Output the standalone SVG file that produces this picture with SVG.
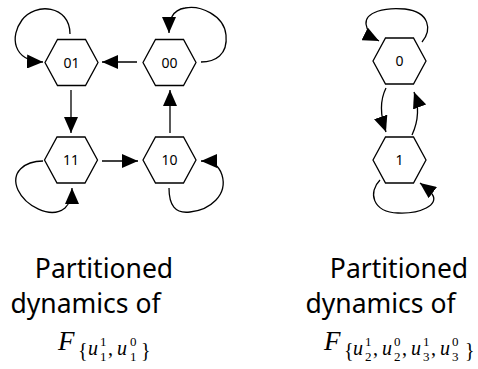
<svg xmlns="http://www.w3.org/2000/svg" width="478" height="369" viewBox="0 0 478 369">
<style>
.hex{fill:#fff;stroke:#000;stroke-width:1.3}
.lbl{font-family:"Noto Sans",sans-serif;font-size:14px;text-anchor:middle;fill:#000}
.edge{fill:none;stroke:#000;stroke-width:1.3;marker-end:url(#ah)}
.cap{font-family:"Noto Sans",sans-serif;font-size:26.5px;text-anchor:middle;fill:#000}
.math{font-family:"Liberation Serif",serif;fill:#000}
.it{font-style:italic}
.sb{font-size:20px}
.ss{font-size:13px}
</style>
<defs>
<marker id="ah" markerUnits="userSpaceOnUse" markerWidth="16" markerHeight="14" refX="16" refY="7" orient="auto" viewBox="0 0 16 14">
<path d="M0,0 L16,7 L0,14 z" fill="#000"/>
</marker>
<path id="hx" d="M-26.5,0 L-14,-23 L14,-23 L26.5,0 L14,23 L-14,23 Z"/>
</defs>

<g id="connectors">
<path class="edge" d="M137,62 L102,62"/>
<path class="edge" d="M71,90 L71,133"/>
<path class="edge" d="M102,161 L138,161"/>
<path class="edge" d="M170,133 L170,90"/>
<path class="edge" d="M70,34 C70,5 35,2 22,20 C10,36 12,61 43,62"/>
<path class="edge" d="M201,62 C215,62 228,55 226,35 C224,15 200,5 185,8 C172,10 169,20 169,33"/>
<path class="edge" d="M43,161 C25,161 10,172 18,190 C25,205 50,220 65,208 C70,203 72,198 72,188"/>
<path class="edge" d="M169,188 C169,205 175,214 190,212 C210,210 228,195 222,175 C219,165 212,161 201,161"/>
<path class="edge" d="M422,42 C432,30 430,12 405,9 C385,7 365,12 366,24 C367,32 371,37 379,41"/>
<path class="edge" d="M386,88 C380,100 380,115 386,132"/>
<path class="edge" d="M412,135 C418,122 420,108 414,92"/>
<path class="edge" d="M380,180 C368,192 372,212 398,213 C420,214 440,205 432,194 C428,189 424,186 420,183"/>
</g>

<g id="n01"><use href="#hx" class="hex" x="71.5" y="62.5"/><text class="lbl" x="71.5" y="67.5">01</text></g>
<g id="n00"><use href="#hx" class="hex" x="169.5" y="62.5"/><text class="lbl" x="169.5" y="67.5">00</text></g>
<g id="n11"><use href="#hx" class="hex" x="71" y="160"/><text class="lbl" x="71" y="165">11</text></g>
<g id="n10"><use href="#hx" class="hex" x="169.5" y="160"/><text class="lbl" x="169.5" y="165">10</text></g>
<g id="n0"><use href="#hx" class="hex" x="399.5" y="61"/><text class="lbl" x="399.5" y="66">0</text></g>
<g id="n1"><use href="#hx" class="hex" x="399.5" y="160"/><text class="lbl" x="399.5" y="165">1</text></g>

<g id="caption-left">
<text class="cap" x="104" y="278">Partitioned</text>
<text class="cap" x="85.5" y="313">dynamics of</text>
<text class="math">
<tspan class="it" x="58" y="350" font-size="27">F</tspan>
<tspan class="sb" x="78" y="357">{</tspan>
<tspan class="it sb" x="88" y="355">u</tspan>
<tspan class="ss" x="100" y="345.5">1</tspan>
<tspan class="ss" x="100" y="361">1</tspan>
<tspan class="sb" x="108" y="355">,</tspan>
<tspan class="it sb" x="117" y="355">u</tspan>
<tspan class="ss" x="130" y="345.5">0</tspan>
<tspan class="ss" x="130" y="361">1</tspan>
<tspan class="sb" x="141" y="357">}</tspan>
</text>
</g>

<g id="caption-right">
<text class="cap" x="399" y="278">Partitioned</text>
<text class="cap" x="380.5" y="313">dynamics of</text>
<text class="math">
<tspan class="it" x="324" y="350" font-size="27">F</tspan>
<tspan class="sb" x="344" y="357">{</tspan>
<tspan class="it sb" x="353" y="355">u</tspan>
<tspan class="ss" x="365" y="345.5">1</tspan>
<tspan class="ss" x="365" y="361">2</tspan>
<tspan class="sb" x="373" y="355">,</tspan>
<tspan class="it sb" x="382" y="355">u</tspan>
<tspan class="ss" x="394" y="345.5">0</tspan>
<tspan class="ss" x="394" y="361">2</tspan>
<tspan class="sb" x="402" y="355">,</tspan>
<tspan class="it sb" x="411" y="355">u</tspan>
<tspan class="ss" x="423" y="345.5">1</tspan>
<tspan class="ss" x="423" y="361">3</tspan>
<tspan class="sb" x="431" y="355">,</tspan>
<tspan class="it sb" x="440" y="355">u</tspan>
<tspan class="ss" x="452" y="345.5">0</tspan>
<tspan class="ss" x="452" y="361">3</tspan>
<tspan class="sb" x="465" y="357">}</tspan>
</text>
</g>
</svg>
